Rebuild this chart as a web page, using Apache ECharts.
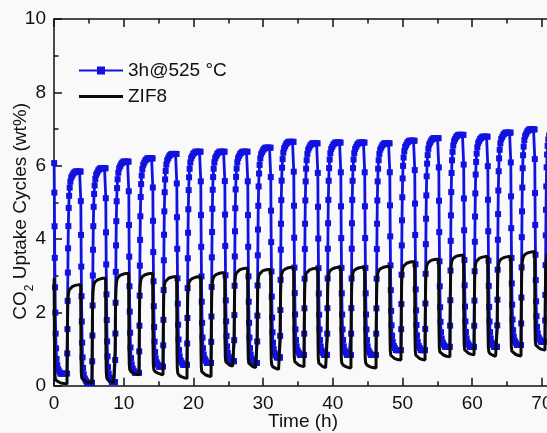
<!DOCTYPE html>
<html><head><meta charset="utf-8">
<script src="https://cdn.jsdelivr.net/npm/echarts@6/dist/echarts.min.js"></script>
<style>html,body{margin:0;padding:0;background:#f9f9f9}#c{width:547px;height:433px}</style>
</head><body><div id="c"></div>
<script>
// ---- data ----
const xTicks = [0, 10, 20, 30, 40, 50, 60, 70];
const yTicks = [0, 2, 4, 6, 8, 10];
const seriesNames = ['3h@525 °C', 'ZIF8'];
// start time (h) of each adsorption step (first and last are partial cycles)
const cycleStart = [-1.93, 1.87, 5.45, 8.75, 12.2, 15.64, 19.08, 22.53, 25.82, 29.12, 32.42, 35.87, 39.17, 42.6, 46.2, 49.78, 53.23, 56.8, 60.26, 63.56, 67.0, 70.44];
// plateau (max) uptake of each cycle, wt%
const bluePeak = [6.07, 5.84, 5.93, 6.11, 6.2, 6.32, 6.38, 6.38, 6.38, 6.49, 6.65, 6.61, 6.63, 6.63, 6.61, 6.68, 6.75, 6.84, 6.79, 6.9, 6.99, 7.0];
const blackPeak = [2.93, 2.75, 2.93, 3.06, 3.06, 2.97, 2.97, 3.08, 3.2, 3.17, 3.23, 3.2, 3.23, 3.23, 3.25, 3.38, 3.45, 3.56, 3.52, 3.52, 3.65, 3.7];
// residual uptake after each desorption step, wt%
const blueLow = [0.33, 0.08, 0.1, 0.35, 0.52, 0.57, 0.62, 0.67, 0.62, 0.77, 0.84, 0.84, 0.84, 0.84, 0.97, 0.97, 1.06, 1.06, 1.06, 1.11, 1.2, 1.2];
const blackLow = [0.05, 0.07, 0.07, 0.3, 0.3, 0.2, 0.25, 0.52, 0.48, 0.43, 0.52, 0.48, 0.48, 0.48, 0.7, 0.7, 0.79, 0.84, 0.79, 0.81, 0.97, 0.97];
// shape of one cycle: [hours after step start, fraction of the step]
const blueRise = [[0,0],[0.03,0.1],[0.06,0.22],[0.09,0.36],[0.12,0.5],[0.15,0.62],[0.19,0.73],[0.24,0.82],[0.3,0.88],[0.38,0.92],[0.48,0.95],[0.6,0.97],[0.75,0.98],[0.9,0.99],[1.05,0.995],[1.2,1],[1.35,1],[1.5,1],[1.65,1],[1.8,1],[1.95,1]];
const blueFall = [[1.98,0.86],[2.01,0.7],[2.04,0.55],[2.08,0.41],[2.12,0.29],[2.17,0.19],[2.23,0.12],[2.3,0.07],[2.4,0.04],[2.55,0.02],[2.7,0.01],[2.85,0],[3.0,0],[3.15,0],[3.28,0]];
const blackRise = [[0,0],[0.03,0.3],[0.06,0.6],[0.1,0.78],[0.15,0.87],[0.22,0.92],[0.32,0.95],[0.5,0.97],[0.8,0.985],[1.2,0.995],[1.6,1],[1.95,1]];
const blackFall = [[1.98,0.6],[2.01,0.25],[2.05,0.1],[2.12,0.05],[2.3,0.03],[2.7,0.015],[3.1,0.005],[3.3,0]];

function build(peak, low, rise, fall) {
  const pts = [];
  for (let i = 0; i < cycleStart.length; i++) {
    const t0 = cycleStart[i];
    const next = i + 1 < cycleStart.length ? cycleStart[i + 1] : Infinity;
    const lowPrev = i > 0 ? low[i - 1] : low[0];
    rise.forEach(([o, f]) => { const t = t0 + o; if (t >= 0 && t < next) pts.push([t, lowPrev + f * (peak[i] - lowPrev)]); });
    fall.forEach(([o, f]) => { const t = t0 + o; if (t >= 0 && t < next) pts.push([t, low[i] + f * (peak[i] - low[i])]); });
  }
  return pts;
}

const FONT = 'Liberation Sans';
const chart = echarts.init(document.getElementById('c'), null, {renderer: 'canvas'});
const axisLine = {show: true, lineStyle: {color: '#111', width: 1.5}};
const tick = {show: true, inside: true, length: 8, lineStyle: {color: '#111', width: 1.5}};
const minor = {show: true, splitNumber: 2, length: 4.5, lineStyle: {color: '#111', width: 1.5}};
chart.setOption({
  backgroundColor: '#f9f9f9',
  animation: false,
  grid: {left: 54, top: 19, right: -64.6, bottom: 47.3, containLabel: false, outerBoundsMode: 'none'},
  title: {text: 'Time (h)', left: 268, top: 412, padding: 0,
    textStyle: {fontFamily: FONT, fontSize: 19, fontWeight: 'normal', color: '#111'}},
  legend: {
    orient: 'vertical', left: 78, top: 61, padding: 0, itemWidth: 44, itemHeight: 10, itemGap: 7,
    data: [{name: seriesNames[0]}, {name: seriesNames[1], icon: 'path://M0,0H44V3H0Z'}],
    textStyle: {fontFamily: FONT, fontSize: 19, color: '#111'}
  },
  xAxis: [
    {type: 'value', min: 0, max: 80, interval: 10, position: 'bottom',
     axisLine, axisTick: tick, minorTick: minor, splitLine: {show: false},
     axisLabel: {margin: 9, fontFamily: FONT, fontSize: 19, color: '#111',
       formatter: v => xTicks.includes(v) ? String(v) : ''}},
    {type: 'value', min: 0, max: 80, interval: 10, position: 'top',
     axisLine, axisTick: tick, minorTick: minor, splitLine: {show: false}, axisLabel: {show: false}}
  ],
  yAxis: [
    {type: 'value', min: 0, max: 10, interval: 2, position: 'left',
     axisLine, axisTick: tick, minorTick: minor, splitLine: {show: false},
     axisLabel: {margin: 8, fontFamily: FONT, fontSize: 19, color: '#111',
       formatter: v => yTicks.includes(v) ? String(v) : ''},
     name: '{a|CO}{s|2}{a| Uptake Cycles (wt%)}', nameLocation: 'middle', nameGap: 21, nameMoveOverlap: false,
     nameTextStyle: {fontFamily: FONT, fontSize: 19, color: '#111', padding: [0, 18, 0, 0],
       rich: {a: {fontFamily: FONT, fontSize: 19, color: '#111', lineHeight: 24},
              s: {fontFamily: FONT, fontSize: 12, color: '#111', lineHeight: 24, verticalAlign: 'bottom', padding: [0, 0, -3, 0]}}}}
  ],
  series: [
    {name: seriesNames[0], type: 'line', data: build(bluePeak, blueLow, blueRise, blueFall),
     symbol: 'rect', symbolSize: 6, showAllSymbol: true, color: '#1212e0',
     lineStyle: {color: '#1212e0', width: 2.8}, itemStyle: {color: '#1212e0'}, z: 3},
    {name: seriesNames[1], type: 'line', data: build(blackPeak, blackLow, blackRise, blackFall),
     symbol: 'none', color: '#0a0a0a', lineStyle: {color: '#0a0a0a', width: 3}, z: 4}
  ]
});
</script></body></html>
